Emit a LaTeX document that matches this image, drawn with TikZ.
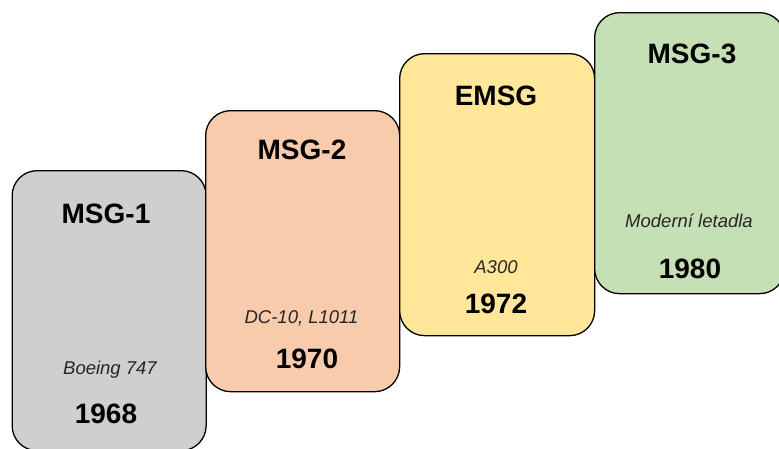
\documentclass[tikz,border=0pt]{standalone}
\usepackage{fontspec}
\setmainfont{Liberation Sans}
\definecolor{cgray}{HTML}{D0CECE}
\definecolor{csalmon}{HTML}{F8CBAD}
\definecolor{cyellow}{HTML}{FFE699}
\definecolor{cgreen}{HTML}{C5E0B4}
\tikzset{
  card/.style={draw=black, line width=1.3pt, rounded corners=25pt, anchor=north west, inner sep=0pt},
  title/.style={anchor=base, inner sep=0pt, font=\fontsize{28}{31}\selectfont\bfseries},
  year/.style={anchor=base, inner sep=0pt, font=\fontsize{28}{31}\selectfont\bfseries},
  plane/.style={anchor=base, inner sep=0pt, text=black!85, font=\fontsize{18.5}{21}\selectfont\itshape}
}
\begin{document}
\begin{tikzpicture}[x=1pt,y=-1pt]
\useasboundingbox (0,0) rectangle (779,448);
\begin{scope}
\clip (0,0) rectangle (779,448);
\node[card, fill=cgray, minimum width=194pt, minimum height=280pt] (b1) at (11.5,170) {};
\node[card, fill=csalmon, minimum width=194pt, minimum height=281pt] (b2) at (205,110) {};
\node[card, fill=cyellow, minimum width=195pt, minimum height=282pt] (b3) at (399,53) {};
\node[card, fill=cgreen, minimum width=190pt, minimum height=281pt] (b4) at (594,12) {};
\end{scope}
\node[title] (t1) at (106,223) {MSG-1};
\node[plane] (p1) at (110,374) {Boeing 747};
\node[year] (y1) at (106,423) {1968};
\node[title] (t2) at (302,159) {MSG-2};
\node[plane] (p2) at (301.5,323) {DC-10, L1011};
\node[year] (y2) at (307,368) {1970};
\node[title] (t3) at (496,105) {EMSG};
\node[plane] (p3) at (496,273) {A300};
\node[year] (y3) at (496,313) {1972};
\node[title] (t4) at (692,63) {MSG-3};
\node[plane] (p4) at (689,227) {Moderní letadla};
\node[year] (y4) at (690,278) {1980};
\end{tikzpicture}
\end{document}
